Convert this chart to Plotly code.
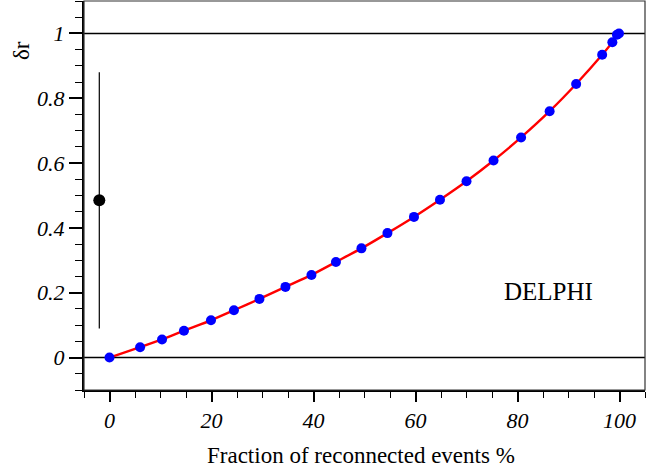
import plotly.graph_objects as go

# Simulated points: delta r vs fraction of reconnected events (%)
frac = [0, 6.0, 10.3, 14.6, 19.9, 24.4, 29.4, 34.5, 39.6, 44.4, 49.4, 54.5,
        59.7, 64.8, 70.0, 75.3, 80.7, 86.3, 91.5, 96.6, 98.6, 99.5, 99.9]
delta_r = [0, 0.032, 0.056, 0.083, 0.115, 0.146, 0.181, 0.218, 0.255, 0.295,
           0.337, 0.384, 0.434, 0.487, 0.544, 0.608, 0.679, 0.760, 0.844,
           0.934, 0.973, 0.996, 1.0]

# DELPHI measurement
meas_x = [-2.0]
meas_y = [0.485]
meas_err = [0.395]

ref_lines = [0, 1]

SERIF = "Liberation Serif"
W, H = 662, 470
ML, MR, MT, MB = 84, 17, 1, 80

fig = go.Figure()

fig.add_trace(go.Scatter(
    x=frac, y=delta_r, mode="lines",
    line=dict(color="red", width=2.4, shape="spline", smoothing=0.6),
    hoverinfo="skip", showlegend=False))
fig.add_trace(go.Scatter(
    x=frac, y=delta_r, mode="markers",
    marker=dict(color="blue", size=10, line=dict(width=0)),
    showlegend=False))
fig.add_trace(go.Scatter(
    x=meas_x, y=meas_y, mode="markers",
    marker=dict(color="black", size=12),
    error_y=dict(type="data", array=meas_err, color="black", thickness=1.2, width=0),
    showlegend=False))

for yv in ref_lines:
    fig.add_shape(type="line", xref="paper", yref="y", x0=0, x1=1, y0=yv, y1=yv,
                  line=dict(color="black", width=1.5), layer="below")

# frame (top/right thinner)
fig.add_shape(type="rect", xref="paper", yref="paper", x0=0, x1=1, y0=0, y1=1,
              line=dict(color="#333", width=1.2), layer="above")

fig.add_annotation(x=86, y=0.205, xref="x", yref="y", text="DELPHI",
                   xanchor="center", yanchor="middle",
                   showarrow=False, font=dict(family=SERIF, size=25, color="black"))
fig.add_annotation(xref="paper", yref="paper",
                   x=(22 - ML) / (W - ML - MR), y=1 - (51 - MT) / (H - MT - MB),
                   xanchor="center", yanchor="middle",
                   text="δr", showarrow=False, textangle=-90,
                   font=dict(family=SERIF, size=23, color="black"))
fig.add_annotation(xref="paper", yref="paper",
                   x=(361 - ML) / (W - ML - MR), y=1 - (455 - MT) / (H - MT - MB),
                   xanchor="center", yanchor="middle",
                   text="Fraction of reconnected events %", showarrow=False,
                   font=dict(family=SERIF, size=23, color="black"))

tickfont = dict(family=SERIF, size=22, color="black", style="italic")

fig.update_layout(
    width=W, height=H,
    margin=dict(l=ML, r=MR, t=MT, b=MB, autoexpand=False),
    paper_bgcolor="white", plot_bgcolor="white",
    xaxis=dict(range=[-5, 105], tick0=0, dtick=20, ticks="outside", ticklen=10,
               tickwidth=1.5, tickcolor="black", showgrid=False, zeroline=False,
               showline=True, linecolor="black", linewidth=2, automargin=False,
               minor=dict(dtick=5, tick0=0, ticks="outside", ticklen=6,
                          tickwidth=1.2, tickcolor="black", showgrid=False),
               tickfont=tickfont),
    yaxis=dict(range=[-0.1, 1.1], tick0=0, dtick=0.2, ticks="outside", ticklen=13,
               tickwidth=1.5, tickcolor="black", showgrid=False, zeroline=False,
               showline=True, linecolor="black", linewidth=2, automargin=False,
               minor=dict(dtick=0.05, tick0=0, ticks="outside", ticklen=7,
                          tickwidth=1.2, tickcolor="black", showgrid=False),
               tickfont=tickfont),
)

fig.write_html("out.html", config={"displayModeBar": False},
               post_script="document.body.style.margin='0px';document.body.style.padding='0px';")
